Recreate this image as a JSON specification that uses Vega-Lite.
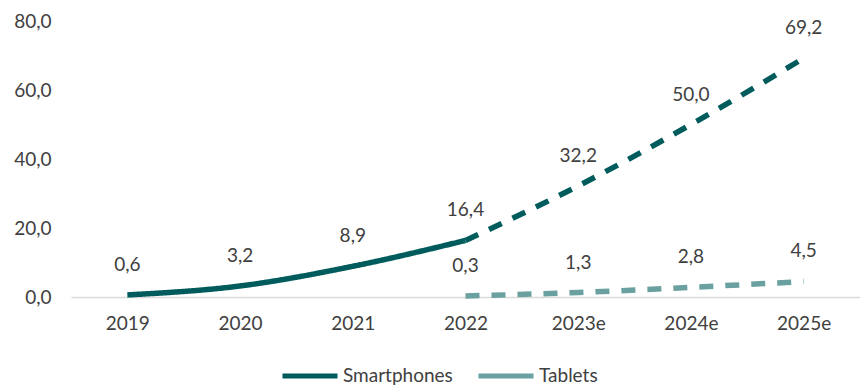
{
  "$schema": "https://vega.github.io/schema/vega-lite/v6.json",
  "width": 789,
  "height": 276,
  "autosize": {"type": "none"},
  "padding": {"left": 71, "top": 21, "right": 0, "bottom": 88},
  "config": {
    "locale": {"number": {"decimal": ",", "thousands": ".", "grouping": [3], "currency": ["", " €"]}},
    "view": {"stroke": null},
    "font": "Lato"
  },
  "datasets": {
    "points": [
      {"year": "2019", "series": "Smartphones", "value": 0.6},
      {"year": "2020", "series": "Smartphones", "value": 3.2},
      {"year": "2021", "series": "Smartphones", "value": 8.9},
      {"year": "2022", "series": "Smartphones", "value": 16.4},
      {"year": "2023e", "series": "Smartphones", "value": 32.2},
      {"year": "2024e", "series": "Smartphones", "value": 50.0},
      {"year": "2025e", "series": "Smartphones", "value": 69.2},
      {"year": "2022", "series": "Tablets", "value": 0.3},
      {"year": "2023e", "series": "Tablets", "value": 1.3},
      {"year": "2024e", "series": "Tablets", "value": 2.8},
      {"year": "2025e", "series": "Tablets", "value": 4.5}
    ],
    "lines": [
      {"year": "2019", "series": "Smartphones", "segment": "actual", "value": 0.6},
      {"year": "2020", "series": "Smartphones", "segment": "actual", "value": 3.2},
      {"year": "2021", "series": "Smartphones", "segment": "actual", "value": 8.9},
      {"year": "2022", "series": "Smartphones", "segment": "actual", "value": 16.4},
      {"year": "2022", "series": "Smartphones", "segment": "forecast", "value": 16.4},
      {"year": "2023e", "series": "Smartphones", "segment": "forecast", "value": 32.2},
      {"year": "2024e", "series": "Smartphones", "segment": "forecast", "value": 50.0},
      {"year": "2025e", "series": "Smartphones", "segment": "forecast", "value": 69.2},
      {"year": "2022", "series": "Tablets", "segment": "forecast", "value": 0.3},
      {"year": "2023e", "series": "Tablets", "segment": "forecast", "value": 1.3},
      {"year": "2024e", "series": "Tablets", "segment": "forecast", "value": 2.8},
      {"year": "2025e", "series": "Tablets", "segment": "forecast", "value": 4.5}
    ]
  },
  "encoding": {
    "x": {
      "field": "year",
      "type": "ordinal",
      "sort": ["2019", "2020", "2021", "2022", "2023e", "2024e", "2025e"],
      "scale": {"type": "point", "padding": 0.5, "domain": ["2019", "2020", "2021", "2022", "2023e", "2024e", "2025e"]},
      "axis": {
        "title": null,
        "labelAngle": 0,
        "ticks": false,
        "domainColor": "#D9D9D9",
        "domainWidth": 1.5,
        "labelPadding": 17,
        "labelFontSize": 19,
        "labelColor": "#404040",
        "grid": false
      }
    },
    "y": {
      "field": "value",
      "type": "quantitative",
      "scale": {"domain": [0, 80], "nice": false},
      "axis": {
        "title": null,
        "values": [0, 20, 40, 60, 80],
        "format": ".1f",
        "grid": false,
        "domain": false,
        "ticks": false,
        "labelPadding": 20,
        "labelFontSize": 19,
        "labelColor": "#404040"
      }
    }
  },
  "layer": [
    {
      "data": {"name": "lines"},
      "mark": {"type": "line", "interpolate": "monotone", "strokeWidth": 5.5},
      "encoding": {
        "color": {
          "field": "series",
          "type": "nominal",
          "scale": {"domain": ["Smartphones", "Tablets"], "range": ["#005C5C", "#6AA0A0"]},
          "legend": {
            "title": null,
            "orient": "none",
            "direction": "horizontal",
            "legendX": 209,
            "legendY": 325,
            "symbolType": "stroke",
            "symbolSize": 3025,
            "symbolStrokeWidth": 5,
            "labelFontSize": 19,
            "labelColor": "#404040",
            "labelOffset": 3,
            "columnPadding": 15
          }
        },
        "strokeDash": {
          "field": "segment",
          "type": "nominal",
          "scale": {"domain": ["actual", "forecast"], "range": [[1, 0], [14, 12]]},
          "legend": null
        }
      }
    },
    {
      "data": {"name": "points"},
      "mark": {"type": "text", "dy": -30, "baseline": "middle", "fontSize": 19, "color": "#404040"},
      "encoding": {
        "text": {"field": "value", "type": "quantitative", "format": ".1f"}
      }
    }
  ]
}
